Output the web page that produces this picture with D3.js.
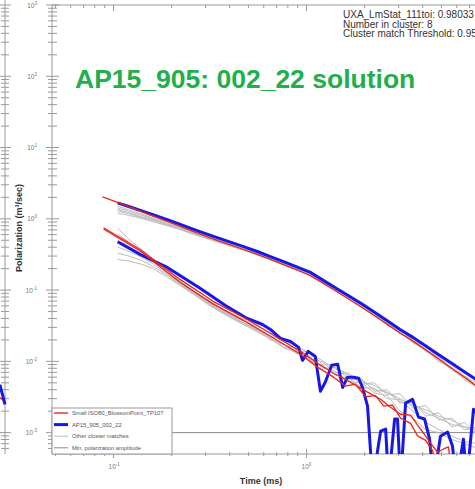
<!DOCTYPE html>
<html>
<head>
<meta charset="utf-8">
<script src="https://cdn.jsdelivr.net/npm/d3@7"></script>
<style>
  body { margin: 0; background: #fff; }
  svg { display: block; font-family: "Liberation Sans", Arial, sans-serif; }
  .axis line, .axis path { stroke: #9a9a9a; }
</style>
</head>
<body>
<script>
let width = 475;
let height = 489;

// time gates (ms)
let times = [0.105, 0.12, 0.14, 0.16, 0.19, 0.22, 0.26, 0.30, 0.35, 0.41,
             0.48, 0.56, 0.65, 0.76, 0.89, 1.04, 1.21, 1.41, 1.65, 1.92,
             2.24, 2.62, 3.05, 3.56, 4.15, 4.84, 5.65, 6.59, 7.69, 8.97];

// upper (late decay) group
let upperBlue = [1.67, 1.49, 1.29, 1.14, 0.97, 0.84, 0.71, 0.62, 0.537, 0.463,
                 0.401, 0.345, 0.295, 0.250, 0.212, 0.179, 0.139, 0.108, 0.0835, 0.0647,
                 0.0491, 0.0371, 0.0280, 0.0217, 0.0164, 0.0124, 0.0094, 0.0071, 0.0054, 0.0041];
let upperRedTime = [0.0877].concat(times);
let upperRed = [2.03, 1.70, 1.48, 1.26, 1.10, 0.92, 0.79, 0.66, 0.57, 0.49, 0.425,
                0.365, 0.315, 0.270, 0.228, 0.192, 0.161, 0.126, 0.098, 0.075, 0.058,
                0.044, 0.033, 0.0250, 0.0192, 0.0145, 0.0108, 0.0080, 0.0060, 0.0044, 0.0032];
let upperGray = [
  [1.62, 1.43, 1.24, 1.08, 0.92, 0.80, 0.667, 0.583, 0.505, 0.435, 0.377, 0.328, 0.280, 0.238, 0.204,
   0.172, 0.133, 0.105, 0.081, 0.0634, 0.0486, 0.0378, 0.0274, 0.0224, 0.0164, 0.0120, 0.0096, 0.0070, 0.0052, 0.0039],
  [1.50, 1.34, 1.16, 1.03, 0.88, 0.76, 0.646, 0.570, 0.494, 0.426, 0.369, 0.321, 0.274, 0.233, 0.199,
   0.168, 0.132, 0.103, 0.080, 0.0615, 0.0476, 0.0349, 0.0277, 0.0202, 0.0157, 0.0113, 0.0088, 0.0062, 0.0049, 0.0036],
  [1.42, 1.28, 1.12, 1.00, 0.85, 0.75, 0.639, 0.558, 0.489, 0.421, 0.369, 0.317, 0.271, 0.233, 0.197,
   0.168, 0.131, 0.103, 0.078, 0.0621, 0.0452, 0.0352, 0.0252, 0.0204, 0.0143, 0.0114, 0.0079, 0.0062, 0.0044, 0.0033],
  [1.35, 1.22, 1.07, 0.97, 0.83, 0.73, 0.625, 0.552, 0.478, 0.417, 0.361, 0.314, 0.268, 0.230, 0.195,
   0.166, 0.129, 0.099, 0.078, 0.0589, 0.0466, 0.0330, 0.0260, 0.0187, 0.0148, 0.0103, 0.0082, 0.0057, 0.0045, 0.0032],
  [1.29, 1.18, 1.04, 0.95, 0.81, 0.72, 0.618, 0.546, 0.473, 0.412, 0.361, 0.311, 0.268, 0.228, 0.195,
   0.165, 0.126, 0.100, 0.075, 0.0608, 0.0437, 0.0345, 0.0244, 0.0197, 0.0138, 0.0109, 0.0075, 0.0060, 0.0042, 0.0031],
  [1.20, 1.12, 1.01, 0.91, 0.80, 0.71, 0.604, 0.533, 0.467, 0.407, 0.357, 0.307, 0.266, 0.225, 0.193,
   0.163, 0.128, 0.097, 0.078, 0.0576, 0.0452, 0.0323, 0.0255, 0.0182, 0.0144, 0.0099, 0.0079, 0.0055, 0.0043, 0.0030]
];

// lower (early decay) group
let lowerBlueTime = [0.105, 0.138, 0.191, 0.282, 0.380, 0.483, 0.591, 0.650, 0.733, 0.826,
                     0.910, 0.953, 1.02, 1.11, 1.18, 1.25, 1.35, 1.45, 1.54, 1.63,
                     1.75, 1.86, 1.95, 2.07, 2.20, 2.42, 2.57, 2.66, 2.86, 2.96,
                     3.07, 3.26, 3.54, 3.80, 4.09, 4.34, 4.55, 4.94, 5.38, 5.70,
                     5.98, 6.50, 6.75, 7.33, 7.97];
let lowerBlue = [0.477, 0.314, 0.206, 0.105, 0.0607, 0.0412, 0.0329, 0.0280, 0.0210, 0.0190,
                 0.0157, 0.0103, 0.0138, 0.0117, 0.0038, 0.0051, 0.0088, 0.0091, 0.0043, 0.0060,
                 0.0060, 0.0058, 0.0043, 0.00235, 0.0002, 0.00105, 0.00112, 0.0002, 0.00155, 0.00155,
                 0.0002, 0.00259, 0.00294, 0.00165, 0.00155, 0.00081, 0.0002, 0.00089, 0.00102, 0.00065,
                 0.0002, 0.00081, 0.0002, 0.00213, 0.00155];
let lowerRedATime = [0.0888, 0.138, 0.222, 0.330, 0.494, 0.733, 0.931, 1.14, 1.38, 1.69, 2.07,
                     2.42, 2.72, 3.07, 3.46, 3.76, 4.04, 4.39, 4.77, 5.13, 5.44, 5.70];
let lowerRedA = [0.748, 0.368, 0.140, 0.069, 0.0387, 0.0203, 0.0138, 0.0094, 0.0068, 0.0051, 0.0037,
                 0.00294, 0.00227, 0.00181, 0.00176, 0.00127, 0.00098, 0.00071, 0.00053, 0.00059, 0.00063, 0.0002];
let lowerRedBTime = [0.0888, 0.138, 0.222, 0.330, 0.494, 0.733, 0.931, 1.14, 1.38, 1.59, 1.79,
                     2.02, 2.28, 2.51, 2.79, 3.07, 3.46, 3.76, 4.14, 4.50, 4.94];
let lowerRedB = [0.72, 0.35, 0.128, 0.063, 0.035, 0.0185, 0.0126, 0.0083, 0.0060, 0.0045, 0.0048,
                 0.0032, 0.0033, 0.00235, 0.00243, 0.00160, 0.00135, 0.00090, 0.00078, 0.00056, 0.0002];
let lowerGray = [
  [0.74, 0.52, 0.37, 0.27, 0.185, 0.135, 0.098, 0.076, 0.059, 0.047, 0.038, 0.031, 0.0255, 0.0195, 0.0165,
   0.0128, 0.0102, 0.0078, 0.0068, 0.0052, 0.0046, 0.0036, 0.0030, 0.0024, 0.0021, 0.0017, 0.0015, 0.0012, 0.0011, 0.0009],
  [0.62, 0.47, 0.34, 0.26, 0.178, 0.130, 0.095, 0.074, 0.057, 0.044, 0.036, 0.0285, 0.0225, 0.0200, 0.0142,
   0.0135, 0.0090, 0.0088, 0.0060, 0.0058, 0.0038, 0.0040, 0.0026, 0.0027, 0.0017, 0.0019, 0.0012, 0.0014, 0.0009, 0.0010],
  [0.50, 0.41, 0.32, 0.25, 0.172, 0.127, 0.093, 0.071, 0.054, 0.043, 0.034, 0.0280, 0.0210, 0.0170, 0.0150,
   0.0110, 0.0098, 0.0070, 0.0066, 0.0048, 0.0050, 0.0034, 0.0035, 0.0022, 0.0024, 0.0015, 0.0016, 0.0011, 0.0012, 0.0008],
  [0.40, 0.35, 0.29, 0.235, 0.166, 0.124, 0.091, 0.070, 0.053, 0.042, 0.0335, 0.0265, 0.0215, 0.0160, 0.0138,
   0.0105, 0.0084, 0.0072, 0.0052, 0.0050, 0.0036, 0.0033, 0.0020, 0.0016, 0.0011, 0.0010, 0.0008, 0.0007, 0.0006, 0.0006],
  [0.33, 0.30, 0.26, 0.215, 0.160, 0.120, 0.089, 0.068, 0.052, 0.041, 0.0330, 0.0270, 0.0200, 0.0175, 0.0128,
   0.0118, 0.0080, 0.0082, 0.0056, 0.0055, 0.0040, 0.0037, 0.0027, 0.0026, 0.0019, 0.0016, 0.0013, 0.0012, 0.0010, 0.0009],
  [0.27, 0.255, 0.23, 0.20, 0.152, 0.116, 0.087, 0.066, 0.051, 0.040, 0.0320, 0.0255, 0.0205, 0.0155, 0.0132,
   0.0100, 0.0088, 0.0064, 0.0058, 0.0043, 0.0042, 0.0030, 0.0029, 0.0020, 0.0014, 0.0011, 0.0009, 0.00075, 0.0007, 0.0006]
];

let minAmplitude = 0.001;

// right edge of the neighbouring panel, cut off at the left of the picture
let neighborTime = [7.05, 7.3, 7.5];
let neighborBlue = [0.0047, 0.0033, 0.0025];
let neighborRed = [0.0031, 0.0029, 0.0027];

let yTickExp = [-3, -2, -1, 0, 1, 2, 3];
let xTickExp = [-1, 0];

let legendLabels = ["Small ISO80_BlossomPoint_TP107", "AP15_905_002_22",
                    "Other cluster matches", "Min. polarization amplitude"];
let infoLines = ["UXA_LmStat_111toi: 0.98033", "Number in cluster: 8",
                 "Cluster match Threshold: 0.95"];
let title = "AP15_905: 002_22 solution";

let colors = {red: "#e8261c", blue: "#1818e6", gray: "#bcbcbc", dark: "#8a8a8a"};

let plot = {left: 52, right: 540, top: 5, bottom: 454};

let svg = d3.select("body").append("svg")
            .attr("width", width)
            .attr("height", height);

let x = d3.scaleLog().domain([0.048, 16.2]).range([plot.left, plot.right]);
let y = d3.scaleLog().domain([Math.pow(10, -3.3), 1000]).range([plot.bottom, plot.top]);

svg.append("clipPath").attr("id", "plotclip")
   .append("rect")
   .attr("x", plot.left).attr("y", plot.top)
   .attr("width", plot.right - plot.left).attr("height", plot.bottom - plot.top);

let line = d3.line()
             .x(function(d) { return x(d[0]); })
             .y(function(d) { return y(d[1]); });

// minor log ticks
function logTicks(scale) {
  return scale.ticks().filter(function(v) { return v >= scale.domain()[0] && v <= scale.domain()[1]; });
}
function isDecade(v) {
  let e = Math.log10(v);
  return Math.abs(e - Math.round(e)) < 1e-6;
}

// --- neighbour panel edge ---
let xN = d3.scaleLog().domain([0.048, 7.5]).range([5 - 423, 5]);
let nb = svg.append("g").attr("class", "axis");
nb.append("line").attr("x1", 5).attr("x2", 5).attr("y1", 0).attr("y2", plot.bottom);
nb.selectAll(".nt").data(logTicks(y)).enter().append("line")
  .attr("x1", function(d) { return isDecade(d) ? 0 : 1; })
  .attr("x2", function(d) { return isDecade(d) ? 11 : 9; })
  .attr("y1", function(d) { return y(d); })
  .attr("y2", function(d) { return y(d); });
let nLine = d3.line().x(function(d) { return xN(d[0]); }).y(function(d) { return y(d[1]); });
svg.append("path").attr("d", nLine(d3.zip(neighborTime, neighborRed)))
   .attr("fill", "none").attr("stroke", colors.red).attr("stroke-width", 1.5);
svg.append("path").attr("d", nLine(d3.zip(neighborTime, neighborBlue)))
   .attr("fill", "none").attr("stroke", colors.blue).attr("stroke-width", 3);

// --- axes frame ---
let ax = svg.append("g").attr("class", "axis").attr("stroke-width", 1);
ax.append("line").attr("x1", plot.left).attr("x2", plot.left)
  .attr("y1", plot.top).attr("y2", plot.bottom);
ax.append("line").attr("x1", plot.left).attr("x2", plot.right)
  .attr("y1", plot.top).attr("y2", plot.top);
ax.append("line").attr("x1", plot.left).attr("x2", plot.right)
  .attr("y1", plot.bottom).attr("y2", plot.bottom);

// y ticks (crossing the left axis)
ax.selectAll(".yt").data(logTicks(y)).enter().append("line")
  .attr("x1", function(d) { return isDecade(d) ? plot.left - 6 : plot.left - 4; })
  .attr("x2", function(d) { return isDecade(d) ? plot.left + 7 : plot.left + 5; })
  .attr("y1", function(d) { return y(d); })
  .attr("y2", function(d) { return y(d); });

// x ticks (bottom crossing, top inward)
ax.selectAll(".xb").data(logTicks(x)).enter().append("line")
  .attr("x1", function(d) { return x(d); })
  .attr("x2", function(d) { return x(d); })
  .attr("y1", function(d) { return isDecade(d) ? plot.bottom - 5 : plot.bottom - 2; })
  .attr("y2", function(d) { return isDecade(d) ? plot.bottom + 4 : plot.bottom + 2; });
ax.selectAll(".xt").data(logTicks(x)).enter().append("line")
  .attr("x1", function(d) { return x(d); })
  .attr("x2", function(d) { return x(d); })
  .attr("y1", plot.top)
  .attr("y2", function(d) { return isDecade(d) ? plot.top + 6 : plot.top + 3; });

// tick labels
let yl = svg.append("g").attr("fill", "#777").attr("font-size", 6.5);
yTickExp.forEach(function(e) {
  let t = yl.append("text").attr("x", 37).attr("y", y(Math.pow(10, e)) + 2.5)
            .attr("text-anchor", "end");
  t.append("tspan").text("10");
  t.append("tspan").attr("dy", -3).attr("font-size", 4.5).text(e);
});
let xl = svg.append("g").attr("fill", "#777").attr("font-size", 6.5);
xTickExp.forEach(function(e) {
  let t = xl.append("text").attr("x", x(Math.pow(10, e)) - 5).attr("y", 469);
  t.append("tspan").text("10");
  t.append("tspan").attr("dy", -3).attr("font-size", 4.5).text(e);
});

// axis titles
svg.append("text").attr("x", 261).attr("y", 484).attr("text-anchor", "middle")
   .attr("font-size", 9).attr("font-weight", "bold").attr("fill", "#333")
   .text("Time (ms)");
svg.append("text").attr("transform", "translate(22,228) rotate(-90)")
   .attr("text-anchor", "middle").attr("font-size", 9).attr("font-weight", "bold")
   .attr("fill", "#333").text("Polarization (m\u00b3/sec)");

// --- data ---
let data = svg.append("g").attr("clip-path", "url(#plotclip)")
              .attr("fill", "none").attr("stroke-linejoin", "round");

data.append("line").attr("x1", plot.left).attr("x2", plot.right)
    .attr("y1", y(minAmplitude)).attr("y2", y(minAmplitude))
    .attr("stroke", colors.dark).attr("stroke-width", 1);

data.selectAll(".ug").data(upperGray).enter().append("path")
    .attr("d", function(p) { return line(d3.zip(times, p)); })
    .attr("stroke", colors.gray).attr("stroke-width", 1);
data.selectAll(".lg").data(lowerGray).enter().append("path")
    .attr("d", function(p) { return line(d3.zip(times, p)); })
    .attr("stroke", colors.gray).attr("stroke-width", 1);

data.append("path").attr("d", line(d3.zip(times, upperBlue)))
    .attr("stroke", colors.blue).attr("stroke-width", 3);
data.append("path").attr("d", line(d3.zip(lowerBlueTime, lowerBlue)))
    .attr("stroke", colors.blue).attr("stroke-width", 3);

data.append("path").attr("d", line(d3.zip(upperRedTime, upperRed)))
    .attr("stroke", colors.red).attr("stroke-width", 1.3);
data.append("path").attr("d", line(d3.zip(lowerRedATime, lowerRedA)))
    .attr("stroke", colors.red).attr("stroke-width", 1.3);
data.append("path").attr("d", line(d3.zip(lowerRedBTime, lowerRedB)))
    .attr("stroke", colors.red).attr("stroke-width", 1.3);

// --- legend ---
let lg = svg.append("g");
lg.append("rect").attr("x", plot.left).attr("y", 408).attr("width", 120).attr("height", plot.bottom - 408)
  .attr("fill", "#fff").attr("stroke", "#9a9a9a");
let legendStyle = [[colors.red, 1.4], [colors.blue, 3], [colors.gray, 1], [colors.dark, 1]];
legendLabels.forEach(function(label, i) {
  let ly = 413 + i * 11.6;
  lg.append("line").attr("x1", 54).attr("x2", 68).attr("y1", ly).attr("y2", ly)
    .attr("stroke", legendStyle[i][0]).attr("stroke-width", legendStyle[i][1]);
  lg.append("text").attr("x", 72).attr("y", ly + 2).attr("font-size", 5.8)
    .attr("fill", "#555").text(label);
});

// --- annotations ---
svg.append("text").attr("x", 75).attr("y", 88).attr("font-size", 26.5)
   .attr("font-weight", "bold").attr("fill", "#1fb04b").text(title);

svg.selectAll(".info").data(infoLines).enter().append("text")
   .attr("x", 343).attr("y", function(d, i) { return 18 + i * 9.6; })
   .attr("font-size", 10).attr("fill", "#333").text(function(d) { return d; });
</script>
</body>
</html>
